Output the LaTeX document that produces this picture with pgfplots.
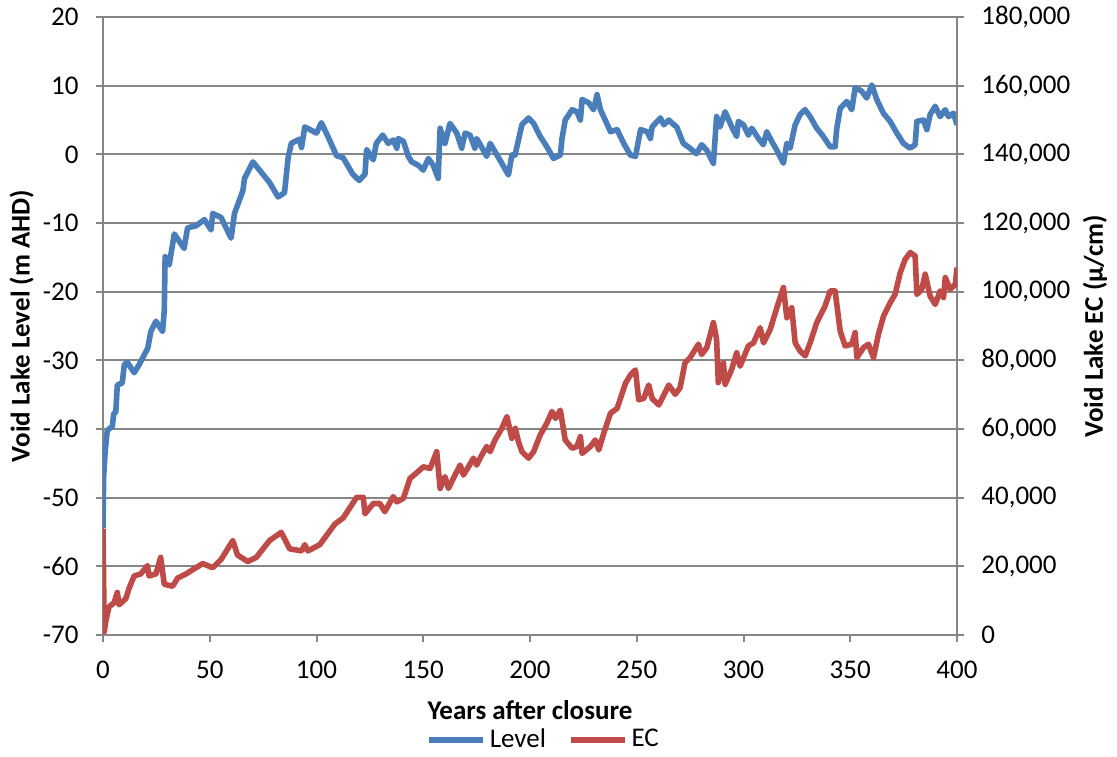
\documentclass[border=0pt]{standalone}
\usepackage{fontspec}
\setmainfont{Carlito}
\usepackage{pgfplots}
\pgfplotsset{compat=1.18}
\definecolor{lvl}{HTML}{4A7EBB}
\definecolor{ecc}{HTML}{BE4B48}
\definecolor{gridc}{HTML}{868686}
\begin{document}
\fontsize{13.5}{16}\selectfont
\begin{tikzpicture}
\useasboundingbox (-51.5pt,-60.5pt) rectangle (507pt,317.5pt);
\pgfplotsset{
 common/.style={
  scale only axis, width=427pt, height=309pt,
  xmin=0, xmax=400,
  tick align=outside, major tick length=3.5pt,
  every tick/.style={gridc, line width=1pt},
  axis line style={gridc, line width=1pt},
  tick label style={font=\fontsize{13.5}{16}\selectfont, /pgf/number format/assume math mode=true},
  label style={font=\fontsize{13.5}{16}\selectfont\bfseries},
  scaled y ticks=false,
 }
}
\begin{axis}[common,
  axis x line*=bottom, axis y line*=left,
  ymin=-70, ymax=20, ytick={-70,-60,...,20},
  yticklabels={-70,-60,-50,-40,-30,-20,-10,0,10,20},
  yticklabel style={xshift=-4pt},
  xtick={0,50,...,400},
  xticklabel style={yshift=-5pt},
  ymajorgrids, grid style={gridc, line width=1pt},
  xlabel={Years after closure},
  xlabel style={at={(axis description cs:0.5,-0.1214)}, anchor=center},
  ylabel={Void Lake Level (m AHD)},
  ylabel style={at={(axis description cs:-0.0952,0.5)}, anchor=center},
]
\addplot[lvl, line width=2.8pt, line join=round] coordinates {
(0,-54.4) (0.3,-47) (1,-43.3) (2,-40.2) (4.4,-39.6) (5,-37.8) (6,-37.5) (6.7,-33.6) (9,-33.3) (10,-30.6)
(11.4,-30.3) (14.6,-31.8) (17,-30.6) (19,-29.4) (21,-28.2) (22.4,-25.8) (24.8,-24.3) (27.9,-25.8) (28.7,-22.8) (29.1,-14.9)
(31,-16.1) (33.4,-11.6) (38,-13.7) (39.6,-10.7) (43.6,-10.4) (47.5,-9.5) (50.6,-11) (51.4,-8.6) (55.3,-9.2) (60,-12.2)
(61.6,-8.6) (65.5,-5.3) (66.3,-3.5) (70.2,-1.1) (78,-4.1) (82,-6.2) (85,-5.6) (86.7,-0.5) (88.2,1.6) (92,2.2)
(93,1.0) (94.5,4.0) (100,3.1) (102.3,4.6) (105.5,2.5) (109.4,-0.2) (112.5,-0.5) (117,-2.9) (120,-3.8) (122.7,-2.9)
(123.5,0.7) (126.6,-0.8) (128,1.6) (131,2.8) (133.6,1.6) (136,2.1) (137.6,0.9) (138.3,2.3) (140.7,1.9) (143,-0.3)
(144.6,-1.1) (147.7,-1.6) (150,-2.3) (152.4,-0.6) (154.7,-1.6) (157,-3.5) (157.9,3.8) (160.2,1.6) (162.5,4.5) (165.7,3.1)
(168,0.9) (169.6,3.1) (171.9,2.8) (174.2,0.9) (175,2.3) (178.2,0.6) (179.7,-0.3) (181.3,1.6) (183.6,0.4) (186.8,-1.3)
(189.9,-3.0) (191.5,-0.1) (193,-0.1) (194.6,2.1) (196.2,4.3) (199.3,5.3) (201.7,4.5) (204.8,2.6) (207.9,1.1) (211,-0.6)
(214.2,-0.1) (215,2.3) (216.5,5.0) (219.7,6.5) (222,6.2) (223.6,5.0) (224.4,8.0) (227.5,7.5) (229.8,6.5) (231.4,8.7)
(233,6.5) (237.7,3.3) (240.8,3.6) (243.9,1.6) (247,-0.1) (249.4,-0.3) (251.8,3.6) (254.9,3.3) (256.4,2.3) (257.2,4.0)
(261.1,5.3) (262.7,4.3) (265,5.0) (267.4,4.3) (268.7,4.0) (271.8,1.6) (274.9,0.9) (278,0.1) (280.4,1.4) (282.8,0.6)
(285.9,-1.3) (287.4,5.5) (289,4.0) (291.4,6.2) (294.5,4.0) (296.8,2.6) (297.6,4.8) (300,4.3) (302.3,2.8) (303.9,3.8)
(307,2.3) (309.3,1.4) (310.9,3.3) (313.2,1.9) (315.6,0.6) (318.7,-1.3) (320.3,1.6) (321.8,0.9) (324.2,4.3) (326.5,5.8)
(328.8,6.5) (331.2,5.5) (334.3,3.8) (337.4,2.6) (340.6,1.1) (342.9,1.1) (343.7,3.8) (345.3,6.7) (348.4,7.7) (350.7,6.5)
(352.3,9.7) (355.4,9.2) (357.7,8.2) (360.1,10.1) (362.4,8.0) (365.5,6.0) (368.7,4.8) (371.8,3.1) (374.9,1.6) (378,0.9)
(380.4,1.4) (381.2,4.8) (384.3,5.0) (385.9,3.6) (387.4,5.8) (389.8,7.0) (392.1,5.5) (394.5,6.5) (396,5.5) (398.4,6.0)
(400,4.3)
};
\end{axis}
\begin{axis}[common,
  axis y line*=right, axis x line=none,
  ymin=0, ymax=180000, ytick={0,20000,...,180000},
  yticklabels={0,{20,000},{40,000},{60,000},{80,000},{100,000},{120,000},{140,000},{160,000},{180,000}},
  yticklabel style={xshift=4pt},
  ylabel={Void Lake EC (µ/cm)},
  ylabel style={at={(axis description cs:1.1616,0.5)}, anchor=center},
  legend style={at={(axis description cs:0.517,-0.17)}, anchor=center, draw=none, fill=none,
    font=\fontsize{13.5}{16}\selectfont, legend columns=2,
    /tikz/every even column/.append style={column sep=9pt},
    /tikz/every odd column/.append style={column sep=0pt}},
  legend image code/.code={\draw[#1] (0pt,0pt) -- (27pt,0pt);},
]
\addlegendimage{lvl, line width=2.8pt}
\addlegendentry{Level}
\addplot[ecc, line width=2.8pt, line join=round] coordinates {
(0,31000) (0.3,15000) (0.6,1000) (1.3,4000) (2.8,8200) (5.2,9400) (6.7,12400) (7.5,8800) (10.7,10600) (12.2,13600)
(14.6,17200) (17.7,17800) (20.8,20200) (21.6,17200) (24.8,17800) (27,22600) (28.7,14800) (32.6,14200) (35,16600) (38.9,17800)
(42,19000) (46.7,20800) (51.4,19600) (55.3,22000) (60.8,27500) (63,23300) (67.8,21400) (71.8,22600) (78,27500) (83.5,29900)
(87.4,25100) (93,24500) (94.5,26300) (96,24500) (101.5,26300) (108.6,32300) (112.5,34100) (118.8,40100) (121.9,40100) (122.7,35300)
(126.6,38300) (129.7,38300) (132,35900) (135.9,40300) (137.6,38800) (140.7,39800) (143.8,45600) (148.5,48100) (150,49000) (153.2,48500)
(156.3,53400) (157.9,42700) (160.2,46100) (161.8,42700) (164.9,46600) (167.3,49500) (168.8,46600) (171.2,49000) (173.5,51500) (175,49500)
(176.6,51500) (179.7,54900) (181.3,53400) (183.6,56800) (186.8,60200) (189.2,63600) (191.5,57300) (193.1,60200) (194.6,56300) (196.2,53400)
(199.3,51500) (201.7,53400) (204.8,58300) (207.9,61700) (210.3,65100) (211.9,63100) (214.2,65500) (216.5,56800) (219.7,54400) (222,54900)
(223.6,57800) (224.4,52900) (228.3,54900) (230.6,56800) (232.2,53900) (234.5,58700) (237.7,64600) (240.8,66000) (244.7,73300) (247,75700)
(249.4,77200) (250.9,68500) (253.3,68900) (255.6,72800) (257.2,68900) (260.3,67000) (262.7,69900) (265,72800) (268,70100) (270.3,72000)
(272.6,79300) (275,80800) (278.9,84700) (280.4,81700) (282.8,83700) (285.9,91000) (287.4,86100) (288.2,73500) (290.6,79300) (291.4,73000)
(294.5,77400) (296.8,82200) (298.4,78300) (302.3,84200) (304.7,85100) (307.8,89500) (309.4,85100) (312.5,89000) (315.6,95300) (318.7,101200)
(320.3,92400) (322.6,95300) (324.2,85100) (326.5,82700) (328.9,81300) (331.2,85100) (334.3,91000) (338.2,95800) (340.6,100200) (342.9,100200)
(345.3,88500) (347.6,84200) (350.7,84700) (352.3,88100) (353.1,80800) (356.2,83700) (358.5,84700) (360.9,80800) (363.2,87600) (365.6,92900)
(368.7,96800) (371,99200) (373.4,105500) (375.7,109400) (378.1,111400) (380.4,110400) (381.2,99200) (383.5,100700) (385.1,105100) (387.4,98700)
(389.8,96300) (392.1,100200) (393.7,98300) (394.5,104100) (396.8,100700) (399.2,102100) (400,107000)
};
\addlegendentry{EC}
\end{axis}
\end{tikzpicture}
\end{document}
